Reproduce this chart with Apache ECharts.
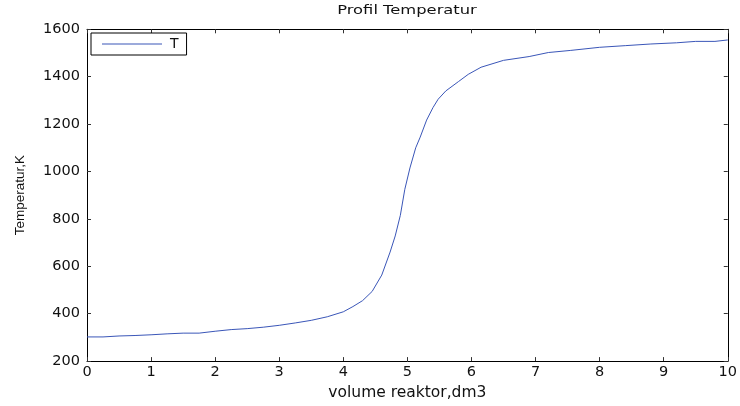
<!DOCTYPE html>
<html>
<head>
<meta charset="utf-8">
<script src="https://cdn.jsdelivr.net/npm/echarts@6/dist/echarts.min.js"></script>
<style>
html,body{margin:0;padding:0;background:#fff;}
#c{width:740px;height:406px;}
</style>
</head>
<body>
<div id="c"></div>
<script>
const volume = [0, 0.25, 0.5, 0.75, 1.0, 1.25, 1.5, 1.75, 2.0, 2.25, 2.5, 2.75, 3.0, 3.25, 3.5, 3.75, 4.0, 4.15, 4.3, 4.45, 4.6, 4.73, 4.81, 4.89, 4.96, 5.04, 5.13, 5.2, 5.3, 5.4, 5.48, 5.6, 5.8, 5.95, 6.15, 6.5, 6.9, 7.2, 7.55, 8.0, 8.4, 8.8, 9.2, 9.5, 9.8, 10];
const temperature = [302, 302, 306, 308, 311, 315, 318, 318, 326, 333, 337, 343, 351, 361, 372, 387, 408, 430, 455, 494, 563, 660, 728, 815, 925, 1015, 1100, 1145, 1217, 1270, 1305, 1340, 1380, 1410, 1440, 1469, 1485, 1502, 1511, 1524, 1531, 1538, 1543, 1549, 1549, 1555];
const seriesName = 'T';
const titleText = 'Profil Temperatur';
const xName = 'volume reaktor,dm3';
const yName = 'Temperatur,K';

const data = volume.map((v, i) => [v, temperature[i]]);
const font = 'DejaVu Sans, Liberation Sans, sans-serif';
const tick = {show: true, inside: true, length: 4, lineStyle: {color: '#333', width: 1}};
const line = {show: true, onZero: false, lineStyle: {color: '#000', width: 1}};

const chart = echarts.init(document.getElementById('c'), null, {renderer: 'canvas'});
chart.setOption({
  animation: false,
  backgroundColor: '#fff',
  graphic: [{
    type: 'text', x: 407, y: 11, scaleX: 1.36, scaleY: 1, originX: 0, originY: 0,
    style: {text: titleText, font: '12px DejaVu Sans', fill: '#111', textAlign: 'center', textVerticalAlign: 'middle'}
  }],
  legend: {
    data: [seriesName], left: 91, top: 33, orient: 'vertical',
    itemWidth: 60, itemHeight: 14, itemGap: 0,
    padding: [4, 8, 4, 11],
    borderColor: '#000', borderWidth: 1, backgroundColor: '#fff',
    icon: 'path://M0,0 L60,0 L60,1 L0,1 Z',
    textStyle: {fontFamily: font, fontSize: 14, color: '#111', padding: [0, 0, 0, 3]}
  },
  grid: {left: 87, right: 10, top: 29.3, bottom: 37.7, containLabel: false},
  xAxis: [{
    type: 'value', min: 0, max: 10, interval: 1, position: 'bottom',
    name: xName, nameLocation: 'middle', nameGap: 23,
    nameTextStyle: {fontFamily: font, fontSize: 15.5, color: '#111'},
    axisLine: line, axisTick: tick, splitLine: {show: false},
    axisLabel: {fontFamily: font, fontSize: 14.5, color: '#111', margin: 4, formatter: v => String(v)}
  }, {
    type: 'value', min: 0, max: 10, interval: 1, position: 'top',
    axisLine: line, axisTick: tick, splitLine: {show: false}, axisLabel: {show: false}
  }],
  yAxis: [{
    type: 'value', min: 200, max: 1600, interval: 200, position: 'left',
    name: yName, nameLocation: 'middle', nameGap: 60,
    nameTextStyle: {fontFamily: 'Liberation Sans, Arial, sans-serif', fontSize: 13.5, color: '#111'},
    axisLine: line, axisTick: tick, splitLine: {show: false},
    axisLabel: {fontFamily: font, fontSize: 14.5, color: '#111', margin: 7, formatter: v => String(v)}
  }, {
    type: 'value', min: 200, max: 1600, interval: 200, position: 'right',
    axisLine: line, axisTick: tick, splitLine: {show: false}, axisLabel: {show: false}
  }],
  series: [{
    name: seriesName, type: 'line', data: data, xAxisIndex: 0, yAxisIndex: 0,
    showSymbol: false, symbol: 'none', smooth: false,
    lineStyle: {color: '#3a56b8', width: 1}, itemStyle: {color: '#3a56b8'}
  }]
});
</script>
</body>
</html>
